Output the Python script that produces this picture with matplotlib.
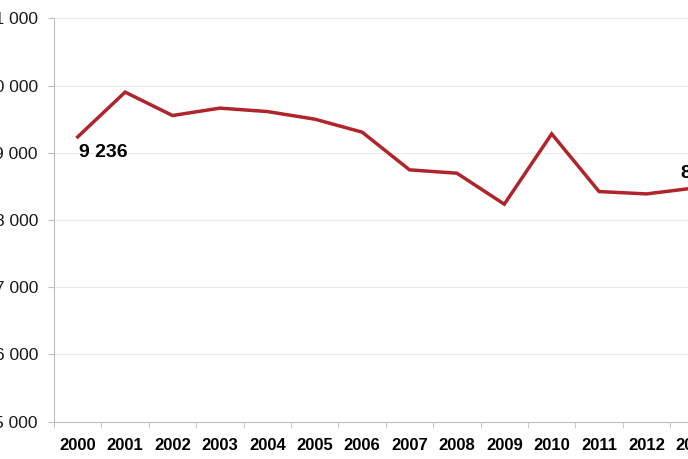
import matplotlib
matplotlib.use('Agg')
import matplotlib.pyplot as plt
from matplotlib.ticker import FuncFormatter

# Data
years = ['2000', '2001', '2002', '2003', '2004', '2005', '2006',
         '2007', '2008', '2009', '2010', '2011', '2012', '2013']
values = [9236, 9902, 9554, 9664, 9613, 9500, 9307,
          8746, 8696, 8235, 9281, 8423, 8388, 8475]
y_ticks = [5000, 6000, 7000, 8000, 9000, 10000, 11000]

plt.rcParams['font.family'] = ['Liberation Sans', 'DejaVu Sans']

fig = plt.figure(figsize=(6.88, 4.59), dpi=100)
# axes runs off the right edge, as in the cropped reference
ax = fig.add_axes([54 / 688, (459 - 421.7) / 459, 663.6 / 688, 403.4 / 459])

x = list(range(len(years)))
ax.plot(x, values, color='#B0242B', linewidth=2.5, solid_joinstyle='miter')

ax.set_xlim(-0.5, len(years) - 0.5)
ax.set_ylim(5000, 11000)
ax.set_yticks(y_ticks)
ax.yaxis.set_major_formatter(FuncFormatter(lambda v, p: f'{int(v):,}'.replace(',', ' ')))
ax.set_xticks(x)
ax.set_xticklabels(years, fontsize=12, fontweight='bold')
ax.set_xticks([i - 0.5 for i in range(len(years) + 1)], minor=True)
ax.tick_params(axis='x', which='major', length=0, pad=12)
ax.tick_params(axis='x', which='minor', length=4, color='#BFBFBF')
ax.tick_params(axis='y', length=4, color='#BFBFBF', labelsize=12.5, pad=7.6,
               labelcolor='#1A1A1A')

ax.grid(True, axis='y', color='#EBEBEB', linewidth=0.8)
ax.set_axisbelow(True)
for side in ['top', 'right']:
    ax.spines[side].set_visible(False)
ax.spines['left'].set_color('#BFBFBF')
ax.spines['bottom'].set_color('#BFBFBF')

# data labels on first and last points
ax.annotate(f'{values[0]:,}'.replace(',', ' '), (x[0], values[0]),
            xytext=(1, -16), textcoords='offset pixels', ha='left', va='center',
            fontsize=14, fontweight='bold')
ax.annotate(f'{values[-1]:,}'.replace(',', ' '), (x[-1], values[-1]),
            xytext=(-13, 15), textcoords='offset pixels', ha='left', va='center',
            fontsize=14, fontweight='bold')

plt.savefig('out.png', dpi=100)
plt.close()
